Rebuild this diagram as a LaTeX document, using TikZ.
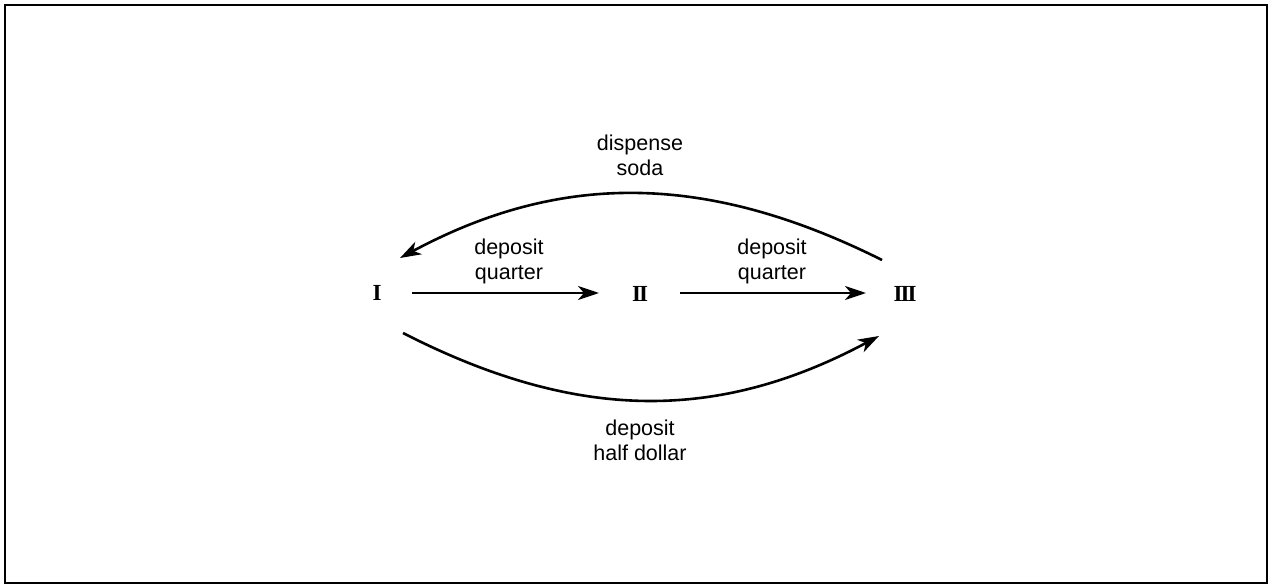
\documentclass[tikz,border=0pt]{standalone}
\usepackage{fontspec}
\setmainfont{Liberation Sans}
\newfontfamily\romfont{Liberation Serif}
\usetikzlibrary{arrows.meta}
\begin{document}
\begin{tikzpicture}[x=1pt,y=-1pt,
  lab/.style={font=\fontsize{21.5}{25}\selectfont, align=center, inner sep=0pt},
  st/.style={font=\romfont\bfseries\fontsize{23}{27}\selectfont, inner sep=0pt},
  arr/.style={line width=2.6pt, -{Stealth[length=21pt,width=14pt,inset=6pt]}}]
\useasboundingbox (0,0) rectangle (1274,585);
\draw[line width=2pt] (5,5) rectangle (1267,583);
\node[st] (s1) at (377,293) {I};
\node[st] (s2) at (640,294) {I\kern-2pt I};
\node[st] (s3) at (905,294) {I\kern-2pt I\kern-2pt I};
\coordinate (a1) at (412,293);
\coordinate (a2) at (599,293);
\coordinate (b1) at (680,293);
\coordinate (b2) at (866,293);
\coordinate (t1) at (882,260);
\coordinate (t2) at (400,258);
\coordinate (u1) at (403,333);
\coordinate (u2) at (879,336);
\draw[arr] (a1) -- (a2);
\draw[arr] (b1) -- (b2);
\draw[arr] (t1) .. controls (706,172) and (560,172) .. (t2);
\draw[arr] (u1) .. controls (577,422) and (718,422) .. (u2);
\node[lab] (l1) at (640,155) {dispense\\soda};
\node[lab] (l2) at (509,261) {deposit\\quarter};
\node[lab] (l3) at (772,261) {deposit\\quarter};
\node[lab] (l4) at (640,440) {deposit\\half dollar};
\end{tikzpicture}
\end{document}
